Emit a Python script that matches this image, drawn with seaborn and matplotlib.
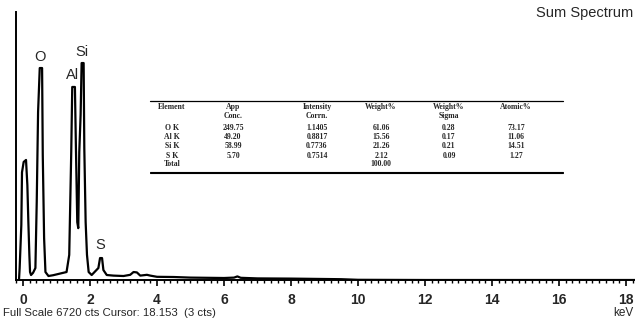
import matplotlib
matplotlib.use("Agg")
import matplotlib.pyplot as plt
from matplotlib.ticker import MultipleLocator
import seaborn as sns
import pandas as pd

# EDS sum spectrum trace (energy in keV, counts)
energy = [-0.12, -0.10, -0.05, -0.03, 0.02, 0.09, 0.13, 0.16, 0.19, 0.21, 0.24,
          0.30, 0.37, 0.41, 0.45, 0.50, 0.57, 0.59, 0.63, 0.67, 0.76,
          0.90, 1.05, 1.20, 1.30, 1.38, 1.44, 1.47, 1.55, 1.58, 1.62, 1.65,
          1.68, 1.72, 1.75, 1.81, 1.83, 1.87, 1.91, 1.96, 2.05,
          2.25, 2.30, 2.36, 2.40, 2.50, 2.70, 3.00, 3.20, 3.30, 3.40, 3.50,
          3.70, 3.80, 4.00, 4.50, 5.00, 5.50, 6.00, 6.30, 6.40, 6.50, 7.00,
          8.00, 8.50, 9.00, 9.50, 10.0, 12.0, 18.27]
counts = [0, 300, 1380, 2700, 2960, 3010, 2380, 1450, 630, 200, 125,
          180, 300, 1960, 4210, 5315, 5315, 3130, 1050, 200, 100,
          120, 150, 180, 200, 630, 3210, 4840, 4840, 3310, 1450, 1300,
          3210, 4140, 5440, 5440, 3310, 1450, 630, 200, 125,
          300, 550, 550, 250, 125, 110, 100, 130, 200, 190, 110,
          130, 110, 80, 75, 60, 55, 50, 60, 90, 55, 40,
          35, 30, 25, 20, 5, 0, 0]

peak_names = ["O", "Al", "Si", "S"]
peak_x = [0.51, 1.49, 1.76, 2.30]
peak_y = [5590, 5140, 5716, 877]

# quantification table
col_head = ["Element", "App", "Intensity", "Weight%", "Weight%", "Atomic%"]
col_sub = ["", "Conc.", "Corrn.", "", "Sigma", ""]
elements = ["O K", "Al K", "Si K", "S K"]
app_conc = ["249.75", "49.20", "58.99", "5.70"]
intensity = ["1.1405", "0.8817", "0.7736", "0.7514"]
weight = ["61.06", "15.56", "21.26", "2.12"]
sigma = ["0.28", "0.17", "0.21", "0.09"]
atomic = ["73.17", "11.06", "14.51", "1.27"]
total_weight = "100.00"

sns.set_style("white")
plt.rcParams["font.family"] = ["Liberation Sans", "DejaVu Sans"]

fig = plt.figure(figsize=(6.35, 3.2), dpi=100)
ax = fig.add_axes([0.0252, 0.125, 0.9748, 0.8375])

df = pd.DataFrame({"keV": energy, "cts": counts})
sns.lineplot(data=df, x="keV", y="cts", ax=ax, color="black", lw=1.6,
             sort=False, estimator=None)

ax.set_xlim(-0.209, 18.27)
ax.set_ylim(0, 6720)
ax.set_xlabel("")
ax.set_ylabel("")
ax.set_yticks([])
for s in ["top", "right"]:
    ax.spines[s].set_visible(False)
for s in ["left", "bottom"]:
    ax.spines[s].set_color("black")
    ax.spines[s].set_linewidth(1.4)

ax.xaxis.set_major_locator(MultipleLocator(2))
ax.xaxis.set_minor_locator(MultipleLocator(0.2))
ax.tick_params(axis="x", which="major", direction="out", length=4, width=1.2,
               color="black", pad=5, labelsize=10, bottom=True)
ax.tick_params(axis="x", which="minor", direction="out", length=2.5, width=1,
               color="black", bottom=True)
for lab in ax.get_xticklabels():
    lab.set_fontweight("bold")

for name, px, py in zip(peak_names, peak_x, peak_y):
    ax.text(px, py, name, ha="center", va="center", fontsize=10.5)

fig.text(0.005, 0.022, "Full Scale 6720 cts Cursor: 18.153  (3 cts)",
         ha="left", va="center", fontsize=8.2)
fig.text(0.998, 0.022, "keV", ha="right", va="center", fontsize=8.5)
fig.text(0.997, 0.958, "Sum Spectrum", ha="right", va="center", fontsize=10.5)

# table, placed in pixel-derived figure fractions
W, H = 635.0, 320.0
col_x = [172, 233, 317, 381, 449, 516]
tkw = dict(ha="center", va="center", fontsize=5.6, fontweight="bold",
           family=["Liberation Serif", "DejaVu Serif"])


def fy(p):
    return 1 - p / H


for cx, h, s in zip(col_x, col_head, col_sub):
    fig.text(cx / W, fy(107), h, **tkw)
    if s:
        fig.text(cx / W, fy(116.5), s, **tkw)

rows_y = [127.5, 137, 146.5, 155.5]
for i, ry in enumerate(rows_y):
    vals = [elements[i], app_conc[i], intensity[i], weight[i], sigma[i], atomic[i]]
    for cx, v in zip(col_x, vals):
        fig.text(cx / W, fy(ry), v, **tkw)
fig.text(col_x[0] / W, fy(164.5), "Total", **tkw)
fig.text(col_x[3] / W, fy(164.5), total_weight, **tkw)

x0, x1 = 150 / W, 563 / W
fig.add_artist(plt.Line2D([x0, x1], [fy(100.5), fy(100.5)], color="black", lw=0.9))
fig.add_artist(plt.Line2D([x0, x1], [fy(171.5), fy(171.5)], color="black", lw=0.8))
fig.add_artist(plt.Line2D([x0, x1], [fy(173), fy(173)], color="black", lw=0.8))

fig.savefig("out.png", dpi=100)
